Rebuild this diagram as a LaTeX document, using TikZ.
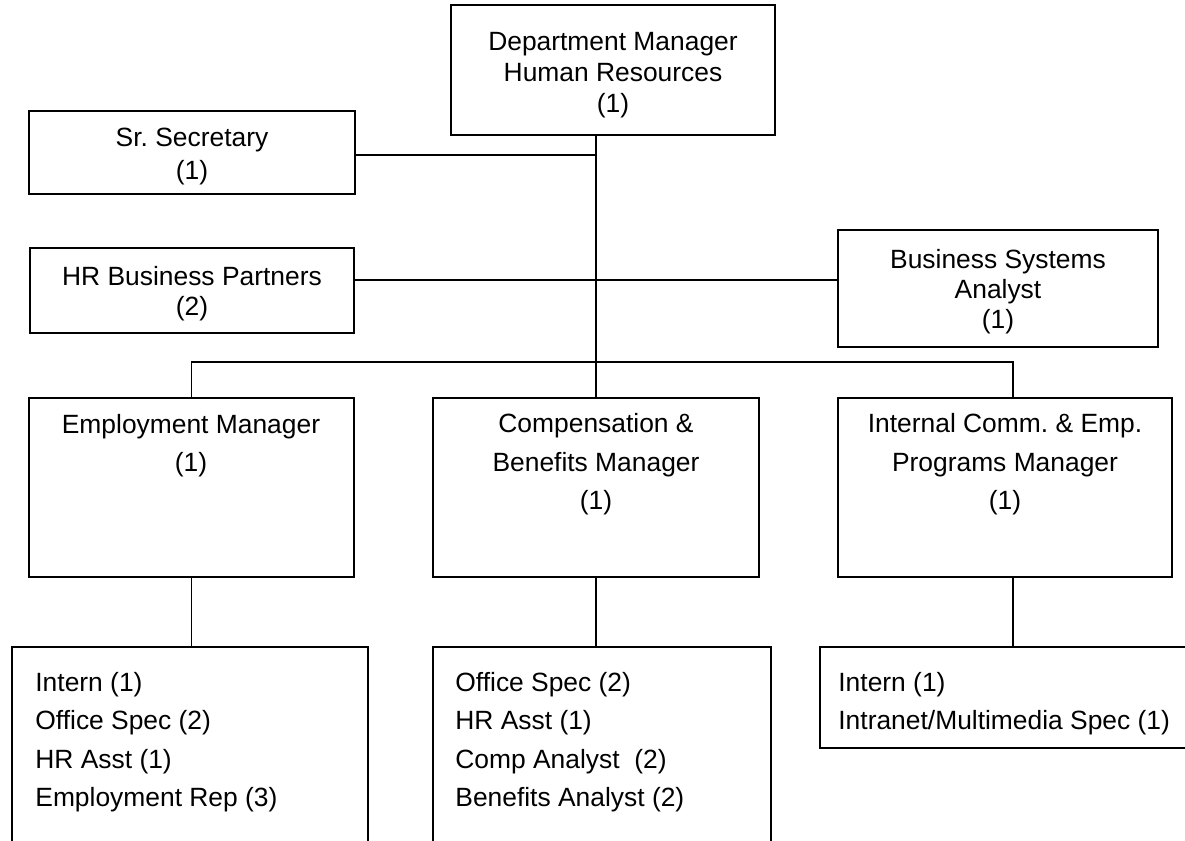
\documentclass[tikz,border=0pt]{standalone}
\usepackage{fontspec}
\setmainfont{Liberation Sans}
\usetikzlibrary{fit}
\frenchspacing
\begin{document}
\begin{tikzpicture}[x=0.5pt,y=-0.5pt,
  box/.style={draw, line width=0.9pt, rectangle, inner sep=0pt},
  lbl/.style={inner sep=0pt, anchor=base, font=\fontsize{13.2}{15}\selectfont},
  llbl/.style={lbl, anchor=base west},
  conn/.style={line width=0.9pt}]
\clip (0,0) rectangle (1185,841);
\fill[white] (0,0) rectangle (1185,841);
% boxes
\node[box, fit={(451,5) (775,135)}] (top) {};
\node[box, fit={(29,111) (355,194)}] (sr) {};
\node[box, fit={(30,248) (354,333)}] (hrbp) {};
\node[box, fit={(838,230) (1158,347)}] (bsa) {};
\node[box, fit={(29,398) (354,577)}] (em) {};
\node[box, fit={(433,398) (759,577)}] (cb) {};
\node[box, fit={(838,398) (1172,577)}] (ic) {};
\node[box, fit={(12,647) (368,900)}] (el) {};
\node[box, fit={(433,647) (771,900)}] (cl) {};
\node[box, fit={(820,647) (1190,748)}] (il) {};
% helper coordinates
\coordinate (sry) at (0,155);
\coordinate (hry) at (0,280);
\coordinate (busy) at (0,362);
\coordinate (icx) at (1013,0);
% connectors
\draw[conn] (top.south -| cb.north) -- (cb.north);
\draw[conn] (sr.east |- sry) -- (cb.north |- sry);
\draw[conn] (hrbp.east |- hry) -- (bsa.west |- hry);
\draw[conn] (em.north) -- (em.north |- busy) -- (icx |- busy) -- (icx |- ic.north);
\draw[conn] (em.south) -- (em.south |- el.north);
\draw[conn] (cb.south) -- (cb.south |- cl.north);
\draw[conn] (icx |- ic.south) -- (icx |- il.north);
% texts
\node[lbl] (t1) at (613,50) {Department Manager};
\node[lbl] (t2) at (613,81) {Human Resources};
\node[lbl] (t3) at (613,112) {(1)};
\node[lbl] (s1) at (192,146) {Sr. Secretary};
\node[lbl] (s2) at (192,179) {(1)};
\node[lbl] (h1) at (192,285) {HR Business Partners};
\node[lbl] (h2) at (192,315) {(2)};
\node[lbl] (b1) at (998,268) {Business Systems};
\node[lbl] (b2) at (998,298) {Analyst};
\node[lbl] (b3) at (998,328) {(1)};
\node[lbl] (e1) at (191,433) {Employment Manager};
\node[lbl] (e2) at (191,471) {(1)};
\node[lbl] (c1) at (596,432) {Compensation \&};
\node[lbl] (c2) at (596,471) {Benefits Manager};
\node[lbl] (c3) at (596,509) {(1)};
\node[lbl] (i1) at (1005,432) {Internal Comm. \& Emp.};
\node[lbl] (i2) at (1005,471) {Programs Manager};
\node[lbl] (i3) at (1005,509) {(1)};
\node[llbl] (l1) at (35,691) {Intern (1)};
\node[llbl] (l2) at (35,729) {Office Spec (2)};
\node[llbl] (l3) at (35,768) {HR Asst (1)};
\node[llbl] (l4) at (35,806) {Employment Rep (3)};
\node[llbl] (m1) at (455,691) {Office Spec (2)};
\node[llbl] (m2) at (455,729) {HR Asst (1)};
\node[llbl] (m3) at (455,768) {Comp Analyst\ \ (2)};
\node[llbl] (m4) at (455,806) {Benefits Analyst (2)};
\node[llbl] (r1) at (838,691) {Intern (1)};
\node[llbl] (r2) at (838,729) {Intranet/Multimedia Spec (1)};
\end{tikzpicture}
\end{document}
